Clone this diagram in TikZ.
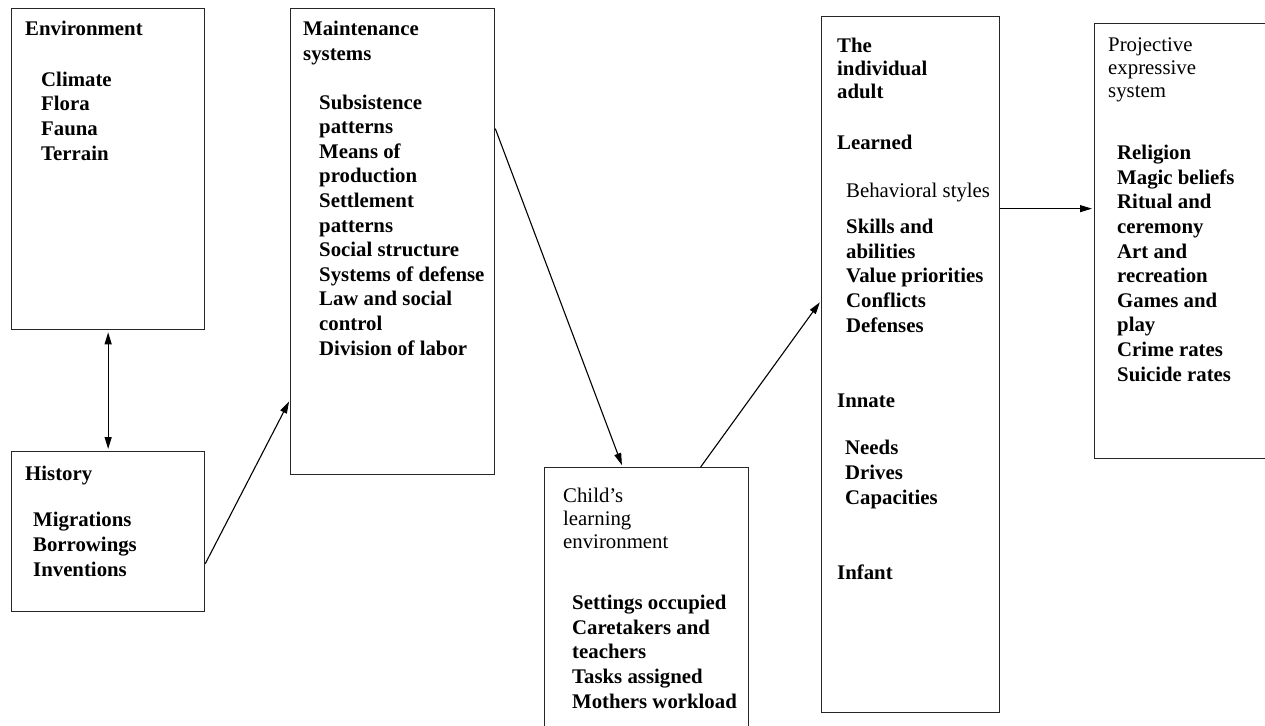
\documentclass[tikz,border=0pt]{standalone}
\usepackage{fontspec}
\setmainfont{Liberation Serif}
\usetikzlibrary{arrows.meta}
\begin{document}
\begin{tikzpicture}[x=1pt, y=-1pt,
    box/.style = {draw=black!85, line width=1.3pt, anchor=north west, inner sep=0pt},
    head/.style = {anchor=base west, inner sep=0pt, align=left, font=\fontsize{20.8}{24.6}\selectfont\bfseries},
    plain/.style = {anchor=base west, inner sep=0pt, align=left, font=\fontsize{20.8}{23}\selectfont},
    arr/.style = {-{Triangle[length=12pt, width=7pt]}, line width=1.1pt, shorten >=2pt},
    dbl/.style = {{Triangle[length=12pt, width=7pt]}-{Triangle[length=12pt, width=7pt]}, line width=1.1pt, shorten >=2pt, shorten <=2pt}]
    \useasboundingbox (0,0) rectangle (1265,725);
    % boxes
    \node[box, minimum width=193pt, minimum height=321pt] (env) at (11,8) {};
    \node[box, minimum width=193pt, minimum height=160pt] (hist) at (11,451) {};
    \node[box, minimum width=204pt, minimum height=466pt] (maint) at (290,8) {};
    \node[box, minimum width=204pt, minimum height=270pt] (child) at (544,467) {};
    \node[box, minimum width=178pt, minimum height=696pt] (adult) at (821,16) {};
    \node[box, minimum width=190pt, minimum height=435pt] (proj) at (1094,23) {};
    % texts (placed by the baseline of their last line)
    \node[head] (envhead) at (25,36) {Environment};
    \node[head] (envlist) at (41,160) {Climate\\Flora\\Fauna\\Terrain};
    \node[head] (histhead) at (25,480) {History};
    \node[head] (histlist) at (33,576) {Migrations\\Borrowings\\Inventions};
    \node[head] (mainthead) at (303,60) {Maintenance\\systems};
    \node[head] (maintlist) at (319,355) {Subsistence\\patterns\\Means of\\production\\Settlement\\patterns\\Social structure\\Systems of defense\\Law and social\\control\\Division of labor};
    \node[plain] (childhead) at (563,548) {Child's\\learning\\environment};
    \node[head] (childlist) at (572,708) {Settings occupied\\Caretakers and\\teachers\\Tasks assigned\\Mothers workload};
    \node[head, font=\fontsize{20.8}{23}\selectfont\bfseries] (adulthead) at (837,98) {The\\individual\\adult};
    \node[head] (learned) at (837,149) {Learned};
    \node[plain] (styles) at (846,197) {Behavioral styles};
    \node[head] (learnlist) at (846,332) {Skills and\\abilities\\Value priorities\\Conflicts\\Defenses};
    \node[head] (innate) at (837,407) {Innate};
    \node[head] (innatelist) at (845,504) {Needs\\Drives\\Capacities};
    \node[head] (infant) at (837,579) {Infant};
    \node[plain] (projhead) at (1108,97) {Projective\\expressive\\system};
    \node[head] (projlist) at (1117,381) {Religion\\Magic beliefs\\Ritual and\\ceremony\\Art and\\recreation\\Games and\\play\\Crime rates\\Suicide rates};
    % connectors
    \draw[dbl] (env.south) -- (hist.north);
    \draw[arr] ([yshift=-32pt]hist.east) -- ([yshift=-158pt]maint.west);
    \draw[arr] ([yshift=113pt]maint.east) -- ([xshift=-24pt]child.north);
    \draw[arr] ([xshift=54pt]child.north) -- ([yshift=64pt]adult.west);
    \draw[arr] ([yshift=156pt]adult.east) -- ([yshift=156pt]adult.east -| proj.west);
\end{tikzpicture}
\end{document}
